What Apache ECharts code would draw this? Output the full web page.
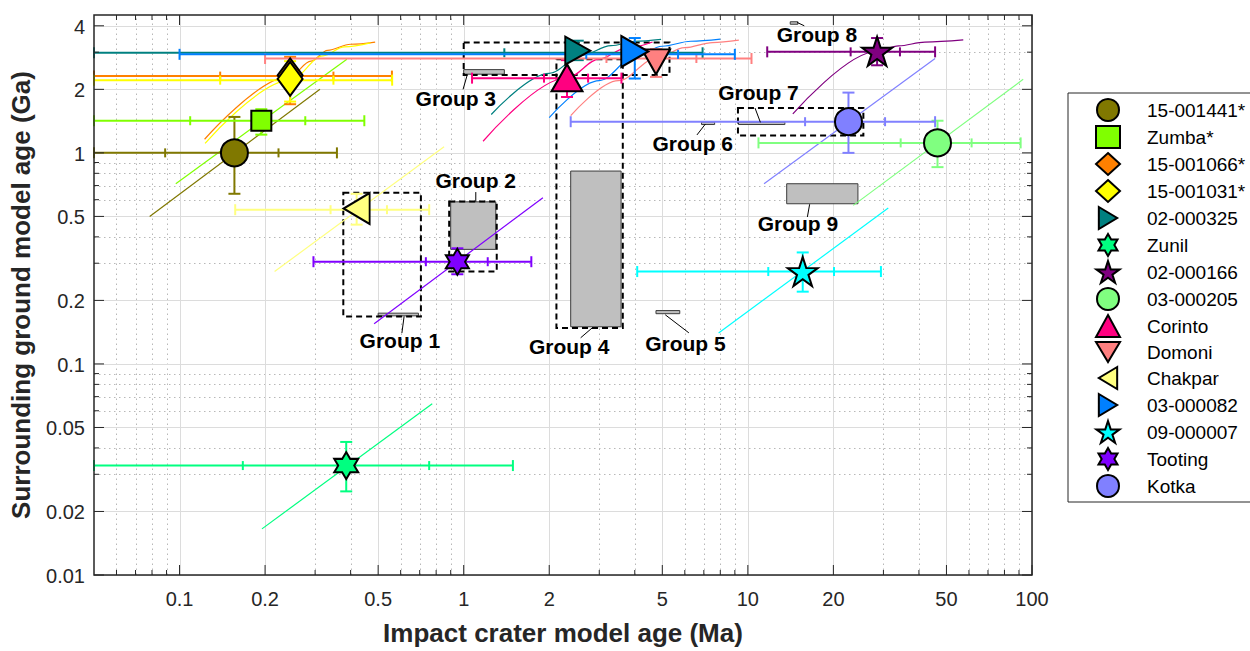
<!DOCTYPE html>
<html><head><meta charset="utf-8">
<script src="https://cdn.jsdelivr.net/npm/echarts@6/dist/echarts.min.js"></script>
<style>html,body{margin:0;padding:0;background:#fff}#c{width:1250px;height:651px}</style>
</head><body><div id="c"></div><script>
// ---------- axis ranges and ticks ----------
const X_MIN = 0.05, X_MAX = 100, Y_MIN = 0.01, Y_MAX = 4.5;
const xMajorTicks = [0.1, 0.2, 0.5, 1, 2, 5, 10, 20, 50, 100];
const xTickLabels = ['0.1', '0.2', '0.5', '1', '2', '5', '10', '20', '50', '100'];
const xMinorTicks = [0.06, 0.07, 0.08, 0.09, 0.3, 0.4, 0.6, 0.7, 0.8, 0.9, 3, 4, 6, 7, 8, 9, 30, 40, 60, 70, 80, 90];
const yMajorTicks = [0.01, 0.02, 0.05, 0.1, 0.2, 0.5, 1, 2, 4];
const yTickLabels = ['0.01', '0.02', '0.05', '0.1', '0.2', '0.5', '1', '2', '4'];
const yMinorTicks = [0.03, 0.04, 0.06, 0.07, 0.08, 0.09, 0.3, 0.4, 0.6, 0.7, 0.8, 0.9, 3];

// ---------- samples ----------
const sampleNames = ['15-001441*', 'Zumba*', '15-001066*', '15-001031*', '02-000325', 'Zunil', '02-000166',
  '03-000205', 'Corinto', 'Domoni', 'Chakpar', '03-000082', '09-000007', 'Tooting', 'Kotka'];
const sampleX = [0.156, 0.194, 0.245, 0.245, 2.52, 0.386, 28.5, 46.5, 2.31, 4.75, 0.42, 4.0, 15.6, 0.95, 22.6];
const sampleY = [1.0, 1.42, 2.33, 2.24, 3.05, 0.033, 3.03, 1.115, 2.27, 2.7, 0.545, 3.02, 0.274, 0.305, 1.405];
const hBarY = [1.0, 1.42, 2.31, 2.21, 2.98, 0.033, 3.01, 1.115, 2.26, 2.8, 0.538, 2.93, 0.274, 0.305, 1.405];
const xCapLow = [0.05, 0.05, 0.05, 0.05, 0.05, 0.05, 11.7, 10.9, 1.07, 0.2, 0.157, 0.1, 4.08, 0.296, 2.38];
const xTickLow = [0.089, 0.109, 0.139, 0.139, 1.39, 0.167, 23.0, 34.5, 1.917, 3.18, 0.34, 2.7, 11.8, 0.736, 15.9];
const xTickHigh = [0.223, 0.277, 0.348, 0.348, 3.6, 0.756, 34.3, 61.3, 2.74, 6.59, 0.537, 5.68, 20.1, 1.215, 30.4];
const xCapHigh = [0.358, 0.447, 0.559, 0.56, 6.93, 1.49, 45.6, 91.2, 3.59, 10.3, 0.756, 9.0, 29.4, 1.73, 45.6];
const yErrLow = [0.64, 1.22, 1.70, 1.75, 2.75, 0.0249, 2.6, 0.856, 1.84, 2.29, 0.457, 2.25, 0.22, 0.266, 1.0];
const yErrHigh = [1.48, 1.61, 2.85, 2.72, 3.4, 0.0427, 3.5, 1.42, 2.75, 3.1, 0.64, 3.5, 0.3375, 0.353, 1.93];
const trendLines = [
  [[0.0785, 0.5], [0.312, 2.0]],
  [[0.097, 0.714], [0.388, 2.78]],
  [[0.1225, 1.16], [0.245, 2.31], [0.29, 2.72], [0.332, 3.06], [0.40, 3.27], [0.488, 3.35]],
  [[0.123, 1.11], [0.245, 2.21], [0.32, 2.88], [0.38, 3.18], [0.47, 3.32]],
  [[1.25, 1.52], [2.0, 2.38], [2.6, 2.9], [3.3, 3.22], [4.0, 3.38], [4.95, 3.45]],
  [[0.195, 0.01654], [0.775, 0.0648]],
  [[14.4, 1.53], [28.5, 3.03], [33.9, 3.21], [42, 3.35], [57.3, 3.43]],
  [[23.5, 0.564], [93.1, 2.23]],
  [[1.17, 1.135], [2.31, 2.27], [3.0, 2.78], [3.7, 3.12], [4.62, 3.35]],
  [[2.38, 1.5], [3.5, 2.2], [4.75, 2.8], [6.0, 3.15], [7.5, 3.33], [9.3, 3.42]],
  [[0.216, 0.274], [0.853, 1.07]],
  [[2.0, 1.47], [3.0, 2.2], [4.0, 2.85], [5.0, 3.2], [6.3, 3.38], [8.0, 3.46]],
  [[7.89, 0.14], [31.2, 0.548]],
  [[0.484, 0.155], [1.9, 0.613]],
  [[11.4, 0.714], [45.6, 2.80]]
];

// ---------- groups ----------
const groupNames = ['Group 1', 'Group 2', 'Group 3', 'Group 4', 'Group 5', 'Group 6', 'Group 7', 'Group 8', 'Group 9'];
const groupBarX0 = [0.50, 0.90, 1.0, 2.38, 4.75, 6.87, 9.27, 14.1, 13.7];
const groupBarX1 = [0.693, 1.297, 1.39, 3.58, 5.76, 7.64, 13.5, 15.0, 24.4];
const groupBarY0 = [0.169, 0.349, 2.36, 0.15, 0.173, 1.375, 1.37, 4.12, 0.574];
const groupBarY1 = [0.174, 0.586, 2.48, 0.82, 0.179, 1.40, 1.40, 4.18, 0.714];
const groupLabelX = [0.596, 1.103, 0.938, 2.35, 6.03, 6.4, 10.9, 17.5, 15.0];
const groupLabelY = [0.1288, 0.74, 1.80, 0.1212, 0.1246, 1.103, 1.93, 3.64, 0.463];
const leaderX0 = [0.617, 1.103, 1.028, 2.83, 5.12, 7.09, 11.07, 14.9, 16.5];
const leaderY0 = [0.168, 0.587, 2.33, 0.148, 0.171, 1.37, 1.395, 4.15, 0.571];
const leaderX1 = [0.606, 1.103, 0.995, 2.58, 6.2, 6.62, 10.6, 15.8, 16.2];
const leaderY1 = [0.140, 0.652, 2.0, 0.133, 0.1404, 1.216, 1.63, 4.0, 0.497];
const boxGroups = ['Group 1', 'Group 2', 'Group 3', 'Group 4', 'Group 7'];
const boxX0 = [0.377, 0.889, 1.0, 2.12, 9.23];
const boxX1 = [0.707, 1.307, 5.3, 3.63, 25.5];
const boxY0 = [0.168, 0.274, 2.34, 0.148, 1.21];
const boxY1 = [0.647, 0.589, 3.33, 2.78, 1.63];

// ---------- styles ----------
function starPath(n, rIn) {
  const pts = [];
  for (let k = 0; k < 2 * n; k++) {
    const a = -Math.PI / 2 + k * Math.PI / n;
    const r = k % 2 === 0 ? 50 : 50 * rIn;
    pts.push((50 + r * Math.cos(a)).toFixed(2) + ',' + (50 + r * Math.sin(a)).toFixed(2));
  }
  return 'path://M' + pts.join(' L') + ' Z';
}
const PENTA = starPath(5, 0.382), HEXA = starPath(6, 0.577);
const TRI_R = 'path://M0,0 L10,6 L0,12 Z', TRI_L = 'path://M10,0 L0,6 L10,12 Z', TRI_D = 'path://M0,0 L12,0 L6,10 Z';
const sampleStyle = [
  { color: '#807800', symbol: 'circle', size: 27 },
  { color: '#80ff00', symbol: 'rect', size: 20 },
  { color: '#ff8000', symbol: 'diamond', size: [25, 34] },
  { color: '#ffff00', symbol: 'diamond', size: [25, 34] },
  { color: '#008080', symbol: TRI_R, size: [25, 28] },
  { color: '#00ff80', symbol: HEXA, size: [24, 27] },
  { color: '#800080', symbol: PENTA, size: [30, 29] },
  { color: '#80ff80', symbol: 'circle', size: 27 },
  { color: '#ff0080', symbol: 'triangle', size: [31, 27] },
  { color: '#ff8080', symbol: TRI_D, size: [28, 25] },
  { color: '#ffff80', symbol: TRI_L, size: [26, 31] },
  { color: '#0080ff', symbol: TRI_R, size: [27, 31] },
  { color: '#00ffff', symbol: PENTA, size: [30, 29] },
  { color: '#8000ff', symbol: HEXA, size: [23, 26] },
  { color: '#8080ff', symbol: 'circle', size: 27 }
];
const FONT = 'Liberation Sans, Arial, Helvetica, sans-serif';
const AX = '#262626';

// ---------- render helpers ----------
function gridRender(params, api) {
  const ch = [];
  const B = api.coord([X_MIN, Y_MIN])[1], T = api.coord([X_MIN, Y_MAX])[1];
  const L = api.coord([X_MIN, Y_MIN])[0], R = api.coord([X_MAX, Y_MIN])[0];
  xMinorTicks.forEach(v => { const x = Math.round(api.coord([v, Y_MIN])[0]) + 0.5;
    ch.push({ type: 'line', shape: { x1: x, y1: B, x2: x, y2: T }, style: { stroke: '#b8b8b8', lineWidth: 1, lineDash: [1.5, 3.5] } }); });
  yMinorTicks.forEach(v => { const y = Math.round(api.coord([X_MIN, v])[1]) + 0.5;
    ch.push({ type: 'line', shape: { x1: L, y1: y, x2: R, y2: y }, style: { stroke: '#b8b8b8', lineWidth: 1, lineDash: [1.5, 3.5] } }); });
  xMajorTicks.forEach(v => { const x = Math.round(api.coord([v, Y_MIN])[0]) + 0.5;
    ch.push({ type: 'line', shape: { x1: x, y1: B, x2: x, y2: T }, style: { stroke: '#dcdcdc', lineWidth: 1 } }); });
  yMajorTicks.forEach(v => { const y = Math.round(api.coord([X_MIN, v])[1]) + 0.5;
    ch.push({ type: 'line', shape: { x1: L, y1: y, x2: R, y2: y }, style: { stroke: '#dcdcdc', lineWidth: 1 } }); });
  return { type: 'group', children: ch };
}
function frameRender(params, api) {
  const ch = [];
  const L = api.coord([X_MIN, Y_MIN])[0], B = api.coord([X_MIN, Y_MIN])[1];
  const R = api.coord([X_MAX, Y_MAX])[0], T = api.coord([X_MAX, Y_MAX])[1];
  const tick = (x1, y1, x2, y2) => ch.push({ type: 'line', shape: { x1, y1, x2, y2 }, style: { stroke: AX, lineWidth: 1 } });
  xMajorTicks.forEach(v => { const x = api.coord([v, Y_MIN])[0]; tick(x, B, x, B - 10); tick(x, T, x, T + 10); });
  xMinorTicks.forEach(v => { const x = api.coord([v, Y_MIN])[0]; tick(x, B, x, B - 5); tick(x, T, x, T + 5); });
  yMajorTicks.forEach(v => { const y = api.coord([X_MIN, v])[1]; tick(L, y, L + 10, y); tick(R, y, R - 10, y); });
  yMinorTicks.forEach(v => { const y = api.coord([X_MIN, v])[1]; tick(L, y, L + 5, y); tick(R, y, R - 5, y); });
  ch.push({ type: 'rect', shape: { x: L, y: T, width: R - L, height: B - T }, style: { fill: 'none', stroke: AX, lineWidth: 1.5 } });
  xMajorTicks.forEach((v, i) => { const x = api.coord([v, Y_MIN])[0];
    ch.push({ type: 'text', x: x, y: B + 14, style: { text: xTickLabels[i], fill: AX, font: '20px ' + FONT, textAlign: 'center', textVerticalAlign: 'top' } }); });
  yMajorTicks.forEach((v, i) => { const y = api.coord([X_MIN, v])[1];
    ch.push({ type: 'text', x: L - 9, y: y + 1, style: { text: yTickLabels[i], fill: AX, font: '20px ' + FONT, textAlign: 'right', textVerticalAlign: 'middle' } }); });
  return { type: 'group', children: ch };
}
function groupShapeRender(params, api) {
  const ch = [];
  groupNames.forEach((g, i) => {
    const p0 = api.coord([groupBarX0[i], groupBarY1[i]]), p1 = api.coord([groupBarX1[i], groupBarY0[i]]);
    const h = Math.max(p1[1] - p0[1], 2.5);
    ch.push({ type: 'rect', shape: { x: p0[0], y: p0[1], width: p1[0] - p0[0], height: h }, style: { fill: '#bfbfbf', stroke: '#3c3c3c', lineWidth: 1 } });
  });
  boxGroups.forEach((g, i) => {
    const p0 = api.coord([boxX0[i], boxY1[i]]), p1 = api.coord([boxX1[i], boxY0[i]]);
    ch.push({ type: 'rect', shape: { x: p0[0], y: p0[1], width: p1[0] - p0[0], height: p1[1] - p0[1] }, style: { fill: 'none', stroke: '#000', lineWidth: 2, lineDash: [6, 4] } });
  });
  return { type: 'group', children: ch };
}
function groupLabelRender(params, api) {
  const ch = [];
  groupNames.forEach((g, i) => {
    const a = api.coord([leaderX0[i], leaderY0[i]]), b = api.coord([leaderX1[i], leaderY1[i]]);
    ch.push({ type: 'line', shape: { x1: a[0], y1: a[1], x2: b[0], y2: b[1] }, style: { stroke: '#000', lineWidth: 1 } });
    const p = api.coord([groupLabelX[i], groupLabelY[i]]);
    ch.push({ type: 'text', x: p[0], y: p[1], style: { text: g, fill: '#000', font: 'bold 21px ' + FONT, textAlign: 'center', textVerticalAlign: 'middle' } });
  });
  return { type: 'group', children: ch };
}
function errRender(params, api) {
  const i = params.dataIndex;
  const c = sampleStyle[i].color;
  const hy = hBarY[i];
  const ch = [];
  const st = { stroke: c, lineWidth: 2 };
  const l = api.coord([xCapLow[i], hy]), r = api.coord([xCapHigh[i], hy]);
  const t1 = api.coord([xTickLow[i], hy]), t2 = api.coord([xTickHigh[i], hy]);
  ch.push({ type: 'line', shape: { x1: l[0], y1: l[1], x2: r[0], y2: r[1] }, style: st });
  [l, r].forEach(p => ch.push({ type: 'line', shape: { x1: p[0], y1: p[1] - 5.5, x2: p[0], y2: p[1] + 5.5 }, style: st }));
  [t1, t2].forEach(p => ch.push({ type: 'line', shape: { x1: p[0], y1: p[1] - 4.5, x2: p[0], y2: p[1] + 4.5 }, style: st }));
  const vt = api.coord([sampleX[i], yErrHigh[i]]), vb = api.coord([sampleX[i], yErrLow[i]]);
  ch.push({ type: 'line', shape: { x1: vt[0], y1: vt[1], x2: vb[0], y2: vb[1] }, style: st });
  [vt, vb].forEach(p => ch.push({ type: 'line', shape: { x1: p[0] - 6, y1: p[1], x2: p[0] + 6, y2: p[1] }, style: st }));
  return { type: 'group', children: ch };
}

// ---------- series ----------
const series = [];
series.push({ type: 'custom', name: '_grid', coordinateSystem: 'cartesian2d', data: [[1, 1]], renderItem: gridRender, silent: true, z: 0, clip: false });
series.push({ type: 'custom', name: '_groups', coordinateSystem: 'cartesian2d', data: [[1, 1]], renderItem: groupShapeRender, silent: true, z: 1, clip: false });
trendLines.forEach((pts, i) => series.push({
  type: 'line', name: sampleNames[i] + ' trend', data: pts, showSymbol: false, symbol: 'none',
  smooth: pts.length > 2 ? 0.35 : false, smoothMonotone: 'x',
  lineStyle: { color: sampleStyle[i].color, width: 1.2 }, silent: true, z: 2
}));
series.push({ type: 'custom', name: '_err', coordinateSystem: 'cartesian2d',
  data: sampleNames.map((n, i) => [sampleX[i], sampleY[i]]), renderItem: errRender, silent: true, z: 3, clip: false });
sampleNames.forEach((n, i) => series.push({
  type: 'scatter', name: n, data: [[sampleX[i], sampleY[i]]], symbol: sampleStyle[i].symbol,
  symbolSize: sampleStyle[i].size, symbolKeepAspect: false,
  itemStyle: { color: sampleStyle[i].color, borderColor: '#000', borderWidth: 2, opacity: 1 }, z: 5 + i * 0.01, silent: true
}));
series.push({ type: 'custom', name: '_labels', coordinateSystem: 'cartesian2d', data: [[1, 1]], renderItem: groupLabelRender, silent: true, z: 10, clip: false });
series.push({ type: 'custom', name: '_frame', coordinateSystem: 'cartesian2d', data: [[1, 1]], renderItem: frameRender, silent: true, z: 12, clip: false });

const chart = echarts.init(document.getElementById('c'), null, { renderer: 'svg', width: 1250, height: 651 });
chart.setOption({
  animation: false,
  backgroundColor: '#fff',
  grid: { left: 94, right: 218, top: 15, bottom: 73, containLabel: false },
  xAxis: {
    type: 'log', logBase: 10, min: X_MIN, max: X_MAX,
    name: 'Impact crater model age (Ma)', nameLocation: 'middle', nameGap: 45,
    nameTextStyle: { fontSize: 26, fontWeight: 'bold', color: AX, fontFamily: FONT },
    axisLine: { show: false }, axisTick: { show: false }, axisLabel: { show: false }, splitLine: { show: false }
  },
  yAxis: {
    type: 'log', logBase: 10, min: Y_MIN, max: Y_MAX,
    name: 'Surrounding ground model age (Ga)', nameLocation: 'middle', nameGap: 60,
    nameTextStyle: { fontSize: 26, fontWeight: 'bold', color: AX, fontFamily: FONT },
    axisLine: { show: false }, axisTick: { show: false }, axisLabel: { show: false }, splitLine: { show: false }
  },
  legend: {
    data: sampleNames, orient: 'vertical', left: 1068, top: 93,
    padding: [5, 12, 4, 27], itemGap: 3, itemWidth: 24, itemHeight: 22,
    backgroundColor: '#fff', borderColor: AX, borderWidth: 1, borderRadius: 0,
    selectedMode: false,
    textStyle: { fontSize: 19, color: '#000', fontFamily: FONT, padding: [0, 0, 0, 22], lineHeight: 20 }
  },
  series: series
});
</script></body></html>
